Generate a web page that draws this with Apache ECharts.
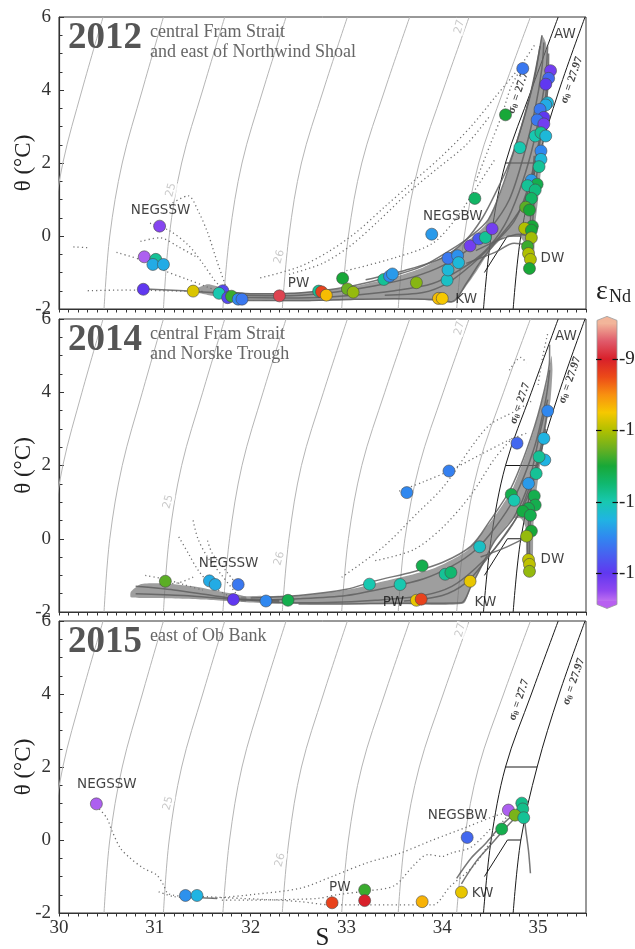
<!DOCTYPE html>
<html>
<head>
<meta charset="utf-8">
<script src="https://cdn.jsdelivr.net/npm/echarts@6/dist/echarts.min.js"></script>
<style>
html,body{margin:0;padding:0;background:#fff;}
#chart{width:635px;height:949px;}
</style>
</head>
<body>
<div id="chart"></div>
<script>
// ---- panel titles ----
const years = ['2012', '2014', '2015'];
const regions = [
  ['central Fram Strait', 'and east of Northwind Shoal'],
  ['central Fram Strait', 'and Norske Trough'],
  ['east of Ob Bank']
];

// ---- axis ticks ----
const salinityTicks = [30, 31, 32, 33, 34, 35];
const thetaTicks = [-2, 0, 2, 4, 6];
const epsTicks = [-9, -10, -11, -12];

// ---- isopycnals [S, theta] ----
const isoGray = [
  [[29.86,-2],[29.92,0],[30.04,2],[30.24,4],[30.46,6]],   // 24.0
  [[30.47,-2],[30.53,0],[30.66,2],[30.87,4],[31.09,6]],   // 24.5
  [[31.09,-2],[31.15,0],[31.28,2],[31.50,4],[31.73,6]],   // 25.0
  [[31.71,-2],[31.78,0],[31.91,2],[32.13,4],[32.37,6]],   // 25.5
  [[32.33,-2],[32.40,0],[32.53,2],[32.76,4],[33.01,6]],   // 26.0
  [[32.95,-2],[33.02,0],[33.16,2],[33.40,4],[33.66,6]],   // 26.5
  [[33.54,-2],[33.61,0],[33.76,2],[34.01,4],[34.28,6]],   // 27.0
  [[34.15,-2],[34.23,0],[34.38,2],[34.64,4],[34.92,6]]    // 27.5
];
const isoBlack = [
  [[34.43,-2],[34.51,0],[34.66,2],[34.93,4],[35.21,6]],   // 27.7
  [[34.74,-2],[34.82,0],[34.99,2],[35.22,4],[35.49,6]]    // 27.97
];
const massBounds = [
  [[34.66,2],[34.99,2]],
  [[34.82,0],[34.68,0],[34.44,-1]]
];

// ---- isopycnal value labels [S, theta, text] ----
const isoLabels = [
  [[31.17,1.26,'25'],[32.30,-0.57,'26'],[34.18,5.73,'27']],
  [[31.14,1.01,'25'],[32.30,-0.54,'26'],[34.18,5.75,'27']],
  [[31.14,1.01,'25'],[32.31,-0.55,'26'],[34.19,5.75,'27']]
];
const sigmaLabels = [
  [[34.79,3.92,'27.7'],[35.35,4.27,'27.97']],
  [[34.81,3.70,'27.7'],[35.33,4.33,'27.97']],
  [[34.80,3.84,'27.7'],[35.37,4.34,'27.97']]
];

// ---- water mass labels [S, theta, name] ----
const massLabels = [
  [[35.28,5.51,'AW'],[35.15,-0.62,'DW'],[34.25,-1.75,'KW'],[32.50,-1.30,'PW'],[34.11,0.53,'NEGSBW'],[31.06,0.71,'NEGSSW']],
  [[35.29,5.52,'AW'],[35.15,-0.58,'DW'],[34.45,-1.73,'KW'],[33.49,-1.73,'PW'],[31.77,-0.68,'NEGSSW']],
  [[30.50,1.51,'NEGSSW'],[34.16,0.66,'NEGSBW'],[32.93,-1.29,'PW'],[34.42,-1.47,'KW']]
];

// ---- CTD cloud cores [S, theta]: outlines of the densest cast clusters ----
const core2012 = [
  [[31.7,-1.52],[32.0,-1.57],[32.5,-1.55],[33.0,-1.42],[33.5,-1.12],[33.8,-0.86],[34.1,-0.42],[34.3,-0.06],[34.45,0.3],[34.6,1.1],[34.75,2.3],[34.88,3.5],[34.97,4.5],[35.02,5.2],[35.04,5.5],
   [35.08,5.3],[35.11,4.6],[35.1,3.8],[35.07,2.8],[35.03,1.8],[35.0,1.0],[34.97,0.3],[34.96,-0.5],[34.95,-1.0],[34.89,-1.0],[34.88,-0.3],[34.8,0.0],[34.65,-0.02],[34.5,-0.4],[34.35,-1.0],[34.2,-1.55],[34.1,-1.82],[33.9,-1.77],[33.5,-1.74],[33.0,-1.76],[32.5,-1.79],[32.0,-1.77],[31.75,-1.7]],
  [[31.4,-1.5],[31.55,-1.32],[31.7,-1.42],[31.82,-1.55],[31.82,-1.7],[31.6,-1.64]]
];
const core2014 = [
  [[31.9,-1.58],[32.5,-1.55],[33.0,-1.4],[33.3,-1.22],[33.9,-0.82],[34.26,-0.32],[34.53,0.55],[34.74,1.4],[34.95,2.9],[35.09,4.25],[35.12,4.7],[35.14,5.0],
   [35.15,4.6],[35.13,3.8],[35.08,3.0],[35.02,2.0],[34.97,1.0],[34.95,0.3],[34.94,-0.72],[34.88,-0.72],[34.87,0.3],[34.82,0.55],[34.74,0.55],[34.55,-0.05],[34.42,-0.7],[34.3,-1.3],[34.22,-1.77],[33.5,-1.79],[32.5,-1.78],[31.9,-1.72]],
  [[30.75,-1.45],[30.85,-1.24],[31.1,-1.22],[31.4,-1.3],[31.7,-1.45],[31.95,-1.58],[31.95,-1.72],[31.5,-1.66],[31.0,-1.62],[30.75,-1.6]]
];
const core2015 = [];

// ---- CTD profiles [S, theta]: dense casts (solid) ----
const ctd2012 = [
  [[31.7,-1.5],[32.0,-1.58],[32.5,-1.56],[33.0,-1.4],[33.5,-1.08],[33.8,-0.82],[34.1,-0.36],[34.3,0.0],[34.48,0.45],[34.62,1.3],[34.78,2.6],[34.92,3.9],[35.0,4.9],[35.04,5.5]],
  [[31.75,-1.6],[32.3,-1.64],[32.8,-1.56],[33.3,-1.36],[33.7,-1.12],[34.0,-0.82],[34.3,-0.32],[34.5,0.2],[34.7,1.0],[34.85,2.2],[34.97,3.5],[35.04,4.6],[35.06,5.3]],
  [[31.8,-1.68],[32.5,-1.7],[33.0,-1.64],[33.5,-1.5],[33.9,-1.3],[34.2,-0.9],[34.45,-0.4],[34.65,0.3],[34.8,1.2],[34.93,2.3],[35.02,3.4],[35.08,4.4],[35.1,5.2]],
  [[31.9,-1.77],[32.5,-1.77],[33.0,-1.74],[33.5,-1.72],[33.9,-1.74],[34.1,-1.8],[34.25,-1.3],[34.4,-0.7],[34.55,-0.2],[34.75,0.4],[34.88,1.2],[34.98,2.2],[35.06,3.4],[35.1,4.4]],
  [[33.4,-1.62],[33.8,-1.55],[34.05,-1.3],[34.3,-0.8],[34.5,-0.3],[34.7,0.3],[34.85,0.9],[34.96,1.8],[35.04,2.9],[35.1,4.0],[35.11,5.0]],
  [[33.2,-1.2],[33.6,-0.95],[34.0,-0.6],[34.25,-0.1],[34.42,0.5],[34.56,1.2],[34.7,2.0],[34.85,3.2],[34.96,4.3],[35.02,5.2]],
  [[34.96,2.2],[34.93,1.2],[34.92,0.4],[34.9,-0.3],[34.9,-0.7],[34.92,-1.0]],
  [[35.0,2.0],[34.96,1.0],[34.94,0.2],[34.93,-0.5],[34.94,-0.95]],
  [[34.35,-0.4],[34.6,-0.1],[34.8,0.05],[34.9,0.0]],
  [[34.25,-0.75],[34.55,-0.45],[34.75,-0.2],[34.9,-0.25]],
  [[30.9,-1.45],[31.3,-1.5],[31.6,-1.55],[31.8,-1.62]]
];
const ctd2014 = [
  [[30.8,-1.3],[31.2,-1.4],[31.6,-1.55],[31.9,-1.65],[32.3,-1.68]],
  [[30.8,-1.5],[31.3,-1.55],[31.8,-1.65],[32.3,-1.72]],
  [[32.0,-1.62],[32.5,-1.55],[33.0,-1.38],[33.3,-1.15],[33.7,-0.9],[34.0,-0.65],[34.3,-0.2],[34.5,0.5],[34.72,1.4],[34.93,2.8],[35.06,4.0],[35.12,4.9],[35.12,5.3]],
  [[32.0,-1.68],[32.5,-1.64],[33.0,-1.55],[33.4,-1.35],[33.8,-1.1],[34.1,-0.75],[34.35,-0.3],[34.55,0.3],[34.75,1.1],[34.95,2.4],[35.08,3.8],[35.12,4.6]],
  [[32.2,-1.75],[32.8,-1.74],[33.3,-1.68],[33.8,-1.55],[34.1,-1.3],[34.35,-0.8],[34.6,-0.1],[34.82,0.8],[35.0,2.2],[35.1,3.5]],
  [[32.5,-1.78],[33.0,-1.78],[33.5,-1.76],[34.0,-1.76],[34.2,-1.75],[34.3,-1.3],[34.42,-0.7],[34.55,-0.05],[34.75,0.6],[34.9,1.5],[35.02,2.9],[35.1,3.8]],
  [[33.6,-1.7],[34.0,-1.55],[34.25,-1.2],[34.45,-0.6],[34.65,0.1],[34.85,0.9],[35.0,2.0],[35.08,3.0]],
  [[34.95,1.2],[34.92,0.5],[34.91,0.0],[34.91,-0.5],[34.92,-0.7]],
  [[34.9,1.1],[34.9,0.4],[34.89,-0.2],[34.9,-0.6]],
  [[34.4,-0.5],[34.65,-0.25],[34.85,0.0],[34.92,0.1]]
];
const ctd2015 = [
  [[34.85,0.75],[34.87,0.3],[34.9,-0.3],[34.92,-0.91]],
  [[34.15,-1.05],[34.3,-0.5],[34.45,-0.1],[34.6,0.35],[34.75,0.7],[34.85,0.8]],
  [[34.2,-1.2],[34.35,-0.6],[34.5,-0.15],[34.65,0.3],[34.8,0.72]],
  [[31.35,-1.55],[31.5,-1.58],[31.65,-1.6]]
];

// ---- CTD profiles [S, theta]: sparse casts (dotted) ----
const sparse2012 = [
  [[30.15,-0.3],[30.3,-0.32]],
  [[30.3,-1.5],[30.7,-1.48],[31.1,-1.5],[31.5,-1.52]],
  [[30.6,-0.45],[30.85,-0.65],[31.1,-0.95],[31.35,-1.2],[31.55,-1.4],[31.72,-1.58]],
  [[30.95,0.35],[31.15,0.15],[31.35,-0.25],[31.5,-0.75],[31.62,-1.2],[31.72,-1.5]],
  [[31.15,0.85],[31.35,1.1],[31.45,0.7],[31.55,0.1],[31.65,-0.7],[31.75,-1.45]],
  [[30.85,-0.15],[31.05,-0.05],[31.25,-0.3],[31.45,-0.6]],
  [[32.1,-1.15],[32.5,-0.85],[32.8,-0.45],[33.1,0.1],[33.4,0.8],[33.7,1.5],[34.0,2.2],[34.3,3.0],[34.55,3.8],[34.8,4.6],[34.98,5.3]],
  [[32.4,-1.05],[32.75,-0.75],[33.05,-0.25],[33.35,0.45],[33.65,1.2],[33.95,1.85],[34.25,2.5],[34.5,3.3]],
  [[33.0,-0.95],[33.5,-0.6],[33.9,-0.2],[34.15,0.5],[34.35,1.3],[34.55,2.1]],
  [[34.35,1.5],[34.5,2.5],[34.62,3.3],[34.72,4.1],[34.85,4.7]]
];
const sparse2014 = [
  [[31.25,0.05],[31.35,-0.4],[31.45,-0.85],[31.6,-1.3],[31.8,-1.6]],
  [[31.4,0.5],[31.45,0.0],[31.55,-0.5],[31.7,-1.0],[31.85,-1.5]],
  [[31.55,-0.05],[31.6,-0.4],[31.75,-0.9],[31.9,-1.4]],
  [[30.9,-1.0],[31.1,-1.1],[31.3,-1.25],[31.5,-1.4]],
  [[31.05,-1.25],[31.25,-1.2],[31.4,-1.05]],
  [[32.95,-1.05],[33.38,-0.23],[33.74,0.7],[34.01,1.41],[34.47,3.05],[34.78,3.51],[34.95,3.79]],
  [[33.55,1.3],[33.8,1.55],[34.07,1.85],[34.4,2.3],[34.7,2.7],[34.9,2.9]],
  [[33.3,-0.6],[33.7,-0.3],[34.0,0.3],[34.3,1.2],[34.55,2.2],[34.75,2.8]],
  [[34.7,4.6],[34.82,4.95],[34.88,4.8]],
  [[35.0,4.2],[35.05,5.0],[35.1,5.6]]
];
const sparse2015 = [
  [[30.42,0.85],[30.5,0.6],[30.55,0.27],[30.64,-0.22],[30.74,-0.49],[30.88,-0.77],[31.02,-0.96],[31.09,-1.23],[31.13,-1.45],[31.19,-1.51],[31.33,-1.56]],
  [[31.04,-1.42],[31.2,-1.55],[31.4,-1.58]],
  [[31.5,-1.55],[31.9,-1.6],[32.3,-1.65],[32.52,-1.69],[32.86,-1.78],[33.21,-1.78],[33.56,-1.78],[33.9,-1.78],[34.08,-1.28],[34.32,-0.73],[34.47,-0.18],[34.57,0.27],[34.68,0.64],[34.81,0.74]],
  [[31.6,-1.6],[32.0,-1.5],[32.52,-1.32],[32.86,-0.99],[33.21,-0.63],[33.56,-0.36],[33.9,0.0],[34.26,0.36],[34.53,0.64],[34.64,0.73]],
  [[31.7,-1.65],[32.2,-1.64],[32.7,-1.6],[32.9,-1.5],[33.2,-1.4],[33.5,-1.25],[33.7,-0.7],[33.85,-0.4],[34.0,-0.45],[34.1,-0.35],[34.3,-0.2],[34.5,0.3]]
];

// ---- Nd isotope samples [S, theta, eps_Nd] ----
const nd2012 = [
  [31.05,0.27,-12.2],[30.89,-0.57,-12.4],[31.01,-0.64,-10.9],[30.98,-0.78,-11.3],[31.09,-0.78,-11.3],
  [30.88,-1.46,-12.0],[31.40,-1.51,-9.85],[31.71,-1.50,-11.9],[31.67,-1.57,-11.0],[31.76,-1.69,-11.9],
  [31.80,-1.65,-10.4],[31.87,-1.73,-11.5],[31.91,-1.73,-11.6],[32.30,-1.64,-8.85],[32.71,-1.51,-10.9],
  [32.74,-1.53,-9.2],[32.79,-1.62,-9.7],[32.96,-1.16,-10.5],[33.01,-1.45,-10.25],[33.07,-1.54,-10.1],
  [33.39,-1.19,-10.9],[33.45,-1.10,-11.5],[33.48,-1.04,-11.4],[33.73,-1.28,-10.15],[33.89,0.05,-11.4],
  [33.96,-1.71,-9.7],[34.00,-1.71,-9.75],[34.05,-1.21,-11.1],[34.06,-0.93,-11.2],[34.06,-0.61,-11.6],
  [34.16,-0.54,-11.45],[34.17,-0.73,-11.2],[34.29,-0.27,-12.1],[34.34,1.03,-10.7],[34.38,-0.08,-11.8],
  [34.45,-0.04,-10.9],[34.52,0.20,-12.1],[34.66,3.32,-10.5],[34.84,4.59,-11.6],[34.81,2.42,-11.0],
  [35.13,4.53,-12.1],[35.11,4.32,-11.7],[35.08,4.16,-12.0],[35.10,3.65,-11.2],[35.08,3.59,-11.3],
  [35.02,3.47,-11.6],[35.06,3.25,-12.0],[34.99,3.18,-11.6],[35.06,3.07,-12.1],[34.97,2.74,-11.0],
  [35.03,2.83,-10.9],[35.08,2.74,-11.2],[35.03,2.33,-11.5],[35.03,2.10,-11.2],[35.01,1.90,-10.9],
  [34.93,1.53,-11.4],[34.99,1.42,-10.6],[34.89,1.38,-10.9],[34.97,1.26,-10.8],[34.93,1.03,-10.7],
  [34.87,0.79,-10.3],[34.91,0.71,-10.5],[34.94,0.27,-10.5],[34.86,0.21,-10.0],[34.93,0.16,-10.5],
  [34.93,-0.05,-10.05],[34.89,-0.29,-10.4],[34.90,-0.48,-10.0],[34.92,-0.64,-10.0],[34.91,-0.89,-10.5]
];
const nd2014 = [
  [31.11,-1.16,-10.3],[31.57,-1.15,-11.3],[31.63,-1.25,-11.3],[31.87,-1.25,-11.6],[31.82,-1.66,-12.0],
  [32.16,-1.70,-11.5],[32.39,-1.68,-10.6],[33.24,-1.24,-11.0],[33.56,-1.25,-11.0],[33.79,-0.74,-10.6],
  [33.73,-1.68,-9.8],[33.78,-1.65,-9.2],[34.03,-0.97,-10.9],[34.09,-0.92,-10.75],[34.29,-1.16,-9.8],
  [34.39,-0.22,-11.1],[33.63,1.26,-11.5],[34.07,1.85,-11.55],[34.78,2.61,-11.7],[35.10,3.49,-11.5],
  [35.06,2.74,-11.25],[35.07,2.15,-11.25],[35.01,2.24,-10.9],[34.98,1.78,-10.9],[34.90,1.51,-11.4],
  [34.72,1.21,-10.6],[34.75,1.05,-11.0],[34.96,1.17,-10.6],[34.97,0.92,-10.6],[34.90,0.83,-10.6],
  [34.84,0.75,-10.55],[34.92,0.64,-10.6],[34.93,0.21,-10.5],[34.88,0.07,-10.1],[34.90,-0.57,-9.95],
  [34.91,-0.70,-9.95],[34.91,-0.89,-10.1]
];
const nd2015 = [
  [30.39,0.99,-12.4],[31.32,-1.52,-11.45],[31.44,-1.52,-11.25],[32.85,-1.72,-9.2],[33.19,-1.37,-10.4],
  [33.19,-1.66,-9.0],[33.79,-1.69,-9.65],[34.20,-1.43,-9.8],[34.26,0.07,-11.7],[34.62,0.30,-10.6],
  [34.69,0.82,-12.4],[34.83,1.01,-10.85],[34.84,0.85,-10.85],[34.76,0.68,-10.2],[34.85,0.61,-10.9]
];

// ---- eps_Nd colour scale (bottom -> top) ----
const epsMin = -12.5, epsMax = -8.5;
const epsColors = ['#c070f0','#9048f0','#6038f0','#4860f0','#3088f0','#20b4e2','#18c8b0','#10b870',
  '#18a838','#6cb020','#b0c000','#f6c800','#f89010','#ec4a18','#d8202a','#e05a6a','#f2b59a'];

const ctdCores = [core2012, core2014, core2015];
const ctdDense = [ctd2012, ctd2014, ctd2015];
const ctdSparse = [sparse2012, sparse2014, sparse2015];
const ndSamples = [nd2012, nd2014, nd2015];

// ---- layout ----
const gridLeft = 59, gridWidth = 527;
const panelTop = [17, 319, 621];
const panelHeight = [292, 293, 292];
const serif = '"Liberation Serif", "DejaVu Serif", serif';
const sans = '"DejaVu Sans", sans-serif';

const grids = [], xAxes = [], yAxes = [], series = [], graphics = [];
const ndSeriesIdx = [];

for (let p = 0; p < 3; p++) {
  const last = p === 2;
  grids.push({left: gridLeft, top: panelTop[p], width: gridWidth, height: panelHeight[p],
    show: true, borderColor: '#333', borderWidth: 1, backgroundColor: 'transparent',
    outerBoundsMode: 'none'});
  xAxes.push({
    type: 'value', gridIndex: p, min: 30, max: 35.5, interval: 0.5,
    axisLine: {show: true, onZero: false, lineStyle: {color: '#333', width: 1.2}},
    axisTick: {show: true, inside: false, length: 3.5, lineStyle: {color: '#333'}},
    minorTick: {show: true, splitNumber: 5, length: 3.5, lineStyle: {color: '#333'}},
    splitLine: {show: false},
    axisLabel: {show: last, margin: 6, fontFamily: serif, fontSize: 19, color: '#333',
      formatter: v => salinityTicks.indexOf(v) >= 0 ? String(v) : ''},
    name: last ? 'S' : '', nameLocation: 'middle', nameGap: 13, nameMoveOverlap: false,
    nameTextStyle: {fontFamily: serif, fontSize: 25, color: '#222'}
  });
  yAxes.push({
    type: 'value', gridIndex: p, min: -2, max: 6, interval: 2,
    axisLine: {show: true, onZero: false, lineStyle: {color: '#333', width: 1.2}},
    axisTick: {show: true, inside: true, length: 5, lineStyle: {color: '#333'}},
    minorTick: {show: true, splitNumber: 4, length: 3.5, lineStyle: {color: '#333'}},
    splitLine: {show: false},
    axisLabel: {show: true, margin: 8, fontFamily: serif, fontSize: 19, color: '#333',
      formatter: v => thetaTicks.indexOf(v) >= 0 ? String(v) : ''},
    name: 'θ (°C)', nameLocation: 'middle', nameGap: 24, nameRotate: 90, nameMoveOverlap: false,
    nameTextStyle: {fontFamily: serif, fontSize: 23, color: '#222'}
  });

  const ax = {xAxisIndex: p, yAxisIndex: p};
  isoGray.forEach(d => series.push(Object.assign({type: 'line', data: d, smooth: 0.35, showSymbol: false,
    silent: true, clip: true, z: 1, lineStyle: {color: '#b5b5b5', width: 1}}, ax)));
  isoBlack.forEach(d => series.push(Object.assign({type: 'line', data: d, smooth: 0.35, showSymbol: false,
    silent: true, clip: true, z: 2, lineStyle: {color: '#1a1a1a', width: 1}}, ax)));
  massBounds.forEach(d => series.push(Object.assign({type: 'line', data: d, showSymbol: false,
    silent: true, clip: true, z: 2, lineStyle: {color: '#1a1a1a', width: 1}}, ax)));

  // dense cores of the CTD cloud
  ctdCores[p].forEach(poly => series.push(Object.assign({type: 'custom', silent: true, z: 3, data: [0],
    renderItem: (params, api) => ({type: 'polygon',
      shape: {points: poly.map(pt => api.coord(pt)), smooth: 0.2},
      style: {fill: 'rgba(112,112,112,0.68)'}})}, ax)));
  ctdSparse[p].forEach(d => series.push(Object.assign({type: 'line', data: d, smooth: 0.3, showSymbol: false,
    silent: true, clip: true, z: 3, lineStyle: {color: '#707070', width: 1.3, type: [1.2, 3]}}, ax)));
  ctdDense[p].forEach(d => series.push(Object.assign({type: 'line', data: d, smooth: 0.3, showSymbol: false,
    silent: true, clip: true, z: 3, lineStyle: {color: 'rgba(95,95,95,0.85)', width: 1.5}}, ax)));

  // isopycnal value labels
  series.push(Object.assign({type: 'scatter', symbolSize: 1, silent: true, z: 4,
    itemStyle: {color: 'transparent'},
    data: isoLabels[p].map(d => ({value: [d[0], d[1]], name: d[2]})),
    label: {show: true, position: 'inside', formatter: '{b}', rotate: 75, fontFamily: sans,
      fontSize: 11, color: '#bdbdbd', backgroundColor: '#fff', padding: [0, 1]}}, ax));
  // sigma-theta labels on the bounding isopycnals
  series.push(Object.assign({type: 'scatter', symbolSize: 1, silent: true, z: 4,
    itemStyle: {color: 'transparent'},
    data: sigmaLabels[p].map(d => ({value: [d[0], d[1]], name: d[2]})),
    label: {show: true, position: 'inside', rotate: 71,
      formatter: p2 => '{s|σ}{t|θ}{s| = ' + p2.name + '}',
      rich: {s: {fontFamily: serif, fontSize: 11.5, fontWeight: 'bold', color: '#111'},
             t: {fontFamily: serif, fontSize: 8, fontWeight: 'bold', color: '#111', padding: [5, 0, 0, 0]}}}}, ax));

  // Nd samples
  ndSeriesIdx.push(series.length);
  series.push(Object.assign({type: 'scatter', data: ndSamples[p], symbolSize: 12, z: 6,
    itemStyle: {borderColor: '#4a4a4a', borderWidth: 0.6, opacity: 1}}, ax));

  // water-mass names
  series.push(Object.assign({type: 'scatter', symbolSize: 1, silent: true, z: 7,
    itemStyle: {color: 'transparent'},
    data: massLabels[p].map(d => ({value: [d[0], d[1]], name: d[2]})),
    label: {show: true, position: 'inside', formatter: '{b}', fontFamily: sans, fontSize: 13.5, color: '#111'}}, ax));

  // titles
  graphics.push({type: 'text', x: 68, y: panelTop[p] + 3, z: 10,
    style: {text: years[p], font: 'bold 37px ' + serif, fill: '#555'}});
  graphics.push({type: 'text', x: 150, y: panelTop[p] + 5, z: 10,
    style: {text: regions[p].join('\n'), font: '18px ' + serif, fill: '#666', lineHeight: 20}});
}

// ---- colour bar ----
const barX = 597, barW = 20, barTopY = 323.4, pxPerUnit = 71.3;
const barTopVal = -8.5, barBotVal = -12.4;
const yOfEps = v => barTopY + (barTopVal - v) * pxPerUnit;
const barBotY = yOfEps(barBotVal);
const stops = epsColors.map((c, i) => {
  const v = epsMin + i * (epsMax - epsMin) / (epsColors.length - 1);
  return {offset: Math.min(1, Math.max(0, (barTopVal - v) / (barTopVal - barBotVal))), color: c};
}).sort((a, b) => a.offset - b.offset);
graphics.push({type: 'rect', shape: {x: barX, y: barTopY, width: barW, height: barBotY - barTopY},
  style: {fill: new echarts.graphic.LinearGradient(0, 0, 0, 1, stops)}, z: 10});
graphics.push({type: 'polygon', shape: {points: [[barX, barTopY + 0.5], [barX, barTopY - 3], [barX + barW / 2, barTopY - 7], [barX + barW, barTopY - 3], [barX + barW, barTopY + 0.5]]},
  style: {fill: epsColors[epsColors.length - 1]}, z: 10});
graphics.push({type: 'polygon', shape: {points: [[barX, barBotY - 0.5], [barX, barBotY + 3], [barX + barW / 2, barBotY + 7], [barX + barW, barBotY + 3], [barX + barW, barBotY - 0.5]]},
  style: {fill: '#b860f0'}, z: 10});
graphics.push({type: 'polygon', shape: {points: [[barX, barTopY - 3], [barX + barW / 2, barTopY - 7], [barX + barW, barTopY - 3],
  [barX + barW, barBotY + 3], [barX + barW / 2, barBotY + 7], [barX, barBotY + 3]]},
  style: {fill: 'none', stroke: '#999', lineWidth: 0.8}, z: 11});
epsTicks.forEach(v => {
  const y = Math.round(yOfEps(v)) + 0.5;
  graphics.push({type: 'line', shape: {x1: barX - 1, y1: y, x2: barX + 4.5, y2: y}, style: {stroke: '#111', lineWidth: 1.2}, z: 12});
  graphics.push({type: 'line', shape: {x1: barX + barW - 4.5, y1: y, x2: barX + barW + 1, y2: y}, style: {stroke: '#111', lineWidth: 1.2}, z: 12});
  graphics.push({type: 'text', x: barX + barW + 2, y: y, z: 12,
    style: {text: String(v), font: '19px ' + serif, fill: '#222', verticalAlign: 'middle'}});
});
graphics.push({type: 'text', x: 596, y: 278, z: 12, style: {text: 'ε', font: '28px ' + serif, fill: '#222'}});
graphics.push({type: 'text', x: 609, y: 288, z: 12, style: {text: 'Nd', font: '18px ' + serif, fill: '#222'}});

const chart = echarts.init(document.getElementById('chart'), null, {renderer: 'canvas'});
chart.setOption({
  animation: false,
  backgroundColor: '#fff',
  grid: grids,
  xAxis: xAxes,
  yAxis: yAxes,
  visualMap: {type: 'continuous', show: false, min: epsMin, max: epsMax, dimension: 2,
    seriesIndex: ndSeriesIdx, inRange: {color: epsColors}},
  series: series,
  graphic: graphics
});
</script>
</body>
</html>
